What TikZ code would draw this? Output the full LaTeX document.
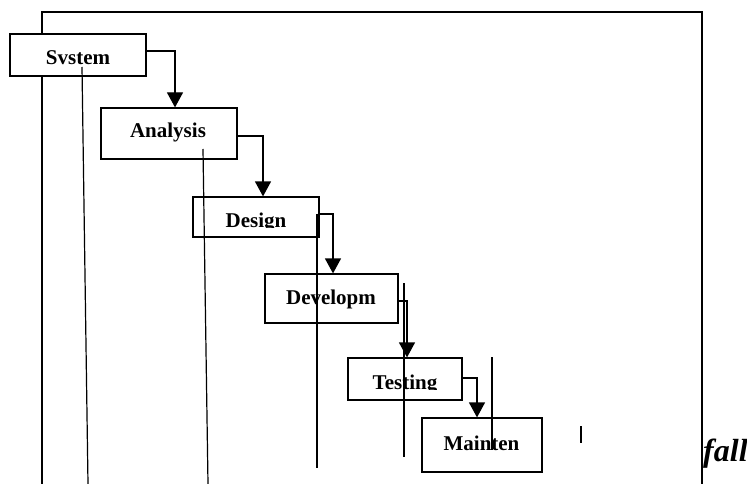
\documentclass[tikz,border=0pt]{standalone}
\usepackage{fontspec}
\setmainfont{Liberation Serif}
\usetikzlibrary{arrows.meta}

\begin{document}
\begin{tikzpicture}[x=1pt,y=-1pt,
  stagebox/.style={draw, line width=1.2pt, inner sep=0pt},
  stagetext/.style={font=\fontsize{21}{25}\selectfont\bfseries, anchor=base, inner sep=0pt},
  flow/.style={line width=1.2pt, -{Triangle[length=15pt,width=16pt]}},
  rule/.style={line width=1.2pt}]
\useasboundingbox (0,0) rectangle (747,484);
% frame
\draw[rule] (42,34) -- (42,12) -- (702,12) -- (702,484);
\draw[rule] (42,76) -- (42,484);
% stages
\node[stagebox, minimum width=136pt, minimum height=42pt] (sys) at (78,55) {};
\node[stagetext] (sysT) at (78,65) {Svstem};
\node[stagebox, minimum width=136pt, minimum height=51pt] (ana) at (169,133.5) {};
\node[stagetext] (anaT) at (168,138) {Analysis};
\node[stagebox, minimum width=126pt, minimum height=40pt] (des) at (256,217) {};
\begin{scope}
\clip (193,197) rectangle (319,227.5);
\node[stagetext] (desT) at (256,227) {Design};
\end{scope}
\node[stagebox, minimum width=133pt, minimum height=49pt] (dev) at (331.5,298.5) {};
\node[stagetext] (devT) at (331,304.5) {Developm};
\node[stagebox, minimum width=114pt, minimum height=42pt] (tst) at (405,379) {};
\begin{scope}
\clip (348,358) rectangle (462,389.5);
\node[stagetext] (tstT) at (405,389) {Testing};
\end{scope}
\node[stagebox, minimum width=120pt, minimum height=54pt] (mnt) at (482,445) {};
\node[stagetext] (mntT) at (481.5,450) {Mainten};
% stray rules
\draw[rule] (82,67) -- (88,484);
\draw[rule] (203,149) -- (208,484);
\draw[rule] (317,214) -- (317,468);
\draw[rule] (404,283) -- (404,457);
\draw[rule] (492,357) -- (492,450);
\draw[rule] (581,426) -- (581,443);
% flow
\draw[flow] ([yshift=4pt]sys.east) -| ([xshift=6pt]ana.north);
\draw[flow] ([yshift=-2.5pt]ana.east) -| ([xshift=7pt]des.north);
\draw[flow] ([xshift=-2pt,yshift=3pt]des.east) -| ([xshift=1.5pt]dev.north);
\draw[flow] ([yshift=-2.5pt]dev.east) -| ([xshift=2pt]tst.north);
\draw[flow] ([yshift=1pt]tst.east) -| ([xshift=-5pt]mnt.north);
\node[font=\fontsize{32}{36}\selectfont\bfseries\itshape, anchor=base west, inner sep=0pt] (fallT) at (703,461) {fall};
\end{tikzpicture}
\end{document}
